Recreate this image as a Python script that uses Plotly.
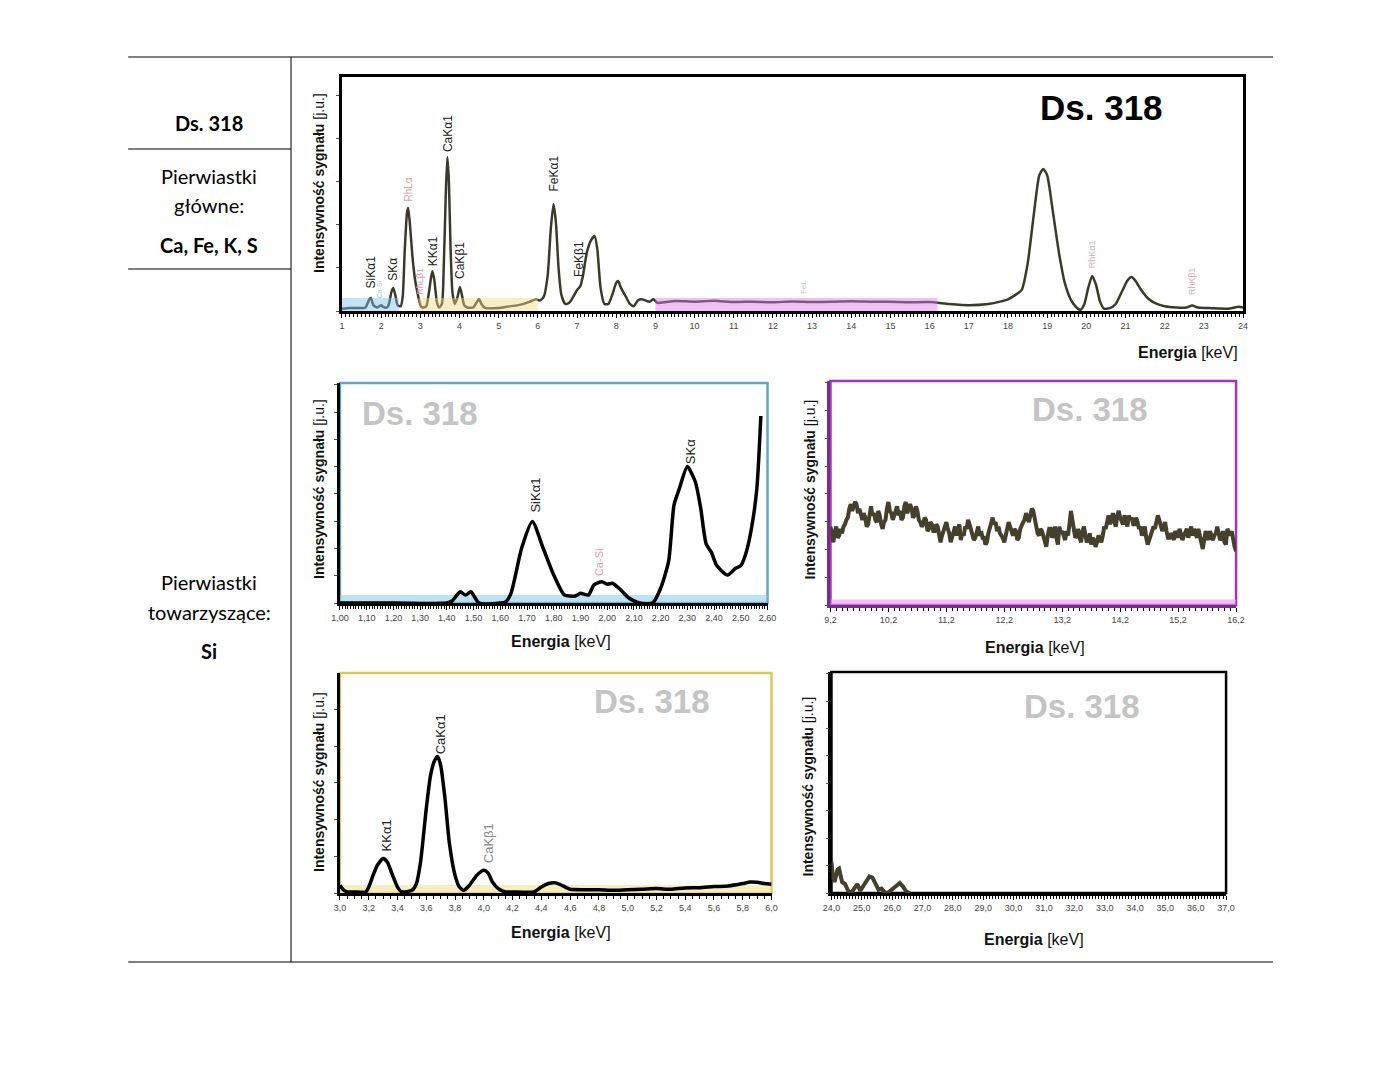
import numpy as np
import plotly.graph_objects as go

# page is 1400x1071; html body has an 8px margin, so the figure is 1384x1055
W, H = 1384, 1055
OFF = 8

# ---------------- DATA ----------------
# Main spectrum (1-24 keV), intensity in arbitrary units (0-100 = plot height)
main_x = [1.0, 1.2, 1.5, 1.6, 1.7, 1.74, 1.8, 1.9, 2.0, 2.05, 2.15, 2.2, 2.26, 2.31, 2.36, 2.42,
          2.5, 2.55, 2.6, 2.66, 2.69, 2.74, 2.8, 2.86, 2.9, 2.95, 3.0, 3.05, 3.15, 3.22, 3.28,
          3.31, 3.36, 3.42, 3.48, 3.55, 3.6, 3.65, 3.69, 3.73, 3.77, 3.82, 3.88, 3.95, 4.01,
          4.06, 4.12, 4.2, 4.35, 4.45, 4.5, 4.56, 4.65, 5.0, 5.2, 5.5, 5.8, 5.95, 6.05, 6.15,
          6.25, 6.33, 6.4, 6.46, 6.53, 6.6, 6.7, 6.8, 6.9, 7.0, 7.08, 7.15, 7.25, 7.35, 7.45,
          7.52, 7.6, 7.7, 7.8, 7.9, 8.0, 8.05, 8.12, 8.25, 8.35, 8.45, 8.55, 8.65, 8.75, 8.85,
          8.95, 9.05, 9.5, 10.0, 10.5, 11.0, 11.5, 12.0, 12.5, 13.0, 13.5, 14.0, 14.5, 15.0,
          15.5, 16.0, 16.5, 17.0, 17.5, 17.8, 18.0, 18.2, 18.35, 18.5, 18.65, 18.8, 18.9, 19.0,
          19.15, 19.3, 19.45, 19.6, 19.75, 19.85, 19.95, 20.05, 20.15, 20.25, 20.35, 20.45,
          20.6, 20.75, 20.9, 21.05, 21.15, 21.25, 21.4, 21.6, 21.8, 22.0, 22.3, 22.55, 22.7,
          22.85, 23.2, 23.6, 23.9, 24.0]
main_y = [1.0, 1.3, 1.3, 1.5, 5.0, 5.6, 2.5, 1.5, 2.5, 1.8, 1.5, 3.0, 8.0, 9.8, 7.0, 2.5,
          2.0, 6.0, 25.0, 42.0, 44.0, 36.0, 23.0, 14.0, 10.0, 6.0, 2.5, 1.5, 2.0, 8.0, 15.0,
          17.0, 13.0, 4.0, 1.5, 3.0, 20.0, 50.0, 65.8, 55.0, 28.0, 8.0, 3.0, 6.0, 10.3,
          7.0, 2.5, 1.5, 1.5, 4.0, 5.1, 3.0, 1.3, 1.3, 1.8, 2.5, 4.0, 5.0, 4.5, 6.0,
          15.0, 35.0, 45.7, 38.0, 18.0, 7.0, 3.0, 3.5, 6.0, 9.0, 10.5, 15.0, 25.0, 30.0, 32.0,
          26.0, 10.0, 3.0, 3.0, 7.0, 12.0, 12.8, 10.0, 6.0, 3.0, 2.0, 4.5, 5.0, 4.5, 4.0,
          5.0, 3.5, 4.3, 4.0, 4.4, 3.8, 4.0, 3.7, 4.1, 3.8, 3.9, 4.2, 4.0, 3.9,
          3.7, 3.8, 3.0, 2.5, 3.0, 4.0, 5.0, 7.0, 9.0, 20.0, 40.0, 58.0, 60.7, 58.0,
          42.0, 25.0, 12.0, 5.0, 1.5, 0.5, 3.0, 10.0, 15.0, 11.0, 4.0, 1.0,
          1.2, 3.0, 8.0, 13.0, 14.5, 13.0, 9.0, 5.0, 3.0, 2.0, 1.5, 1.5, 2.3,
          1.5, 1.2, 1.0, 1.8, 1.5]

# Si region (1.00-2.60 keV)
si_x = [1.00, 1.20, 1.40, 1.42, 1.45, 1.47, 1.49, 1.52, 1.60, 1.62, 1.64, 1.68, 1.72, 1.76,
        1.80, 1.84, 1.88, 1.90, 1.93, 1.95, 1.98, 2.00, 2.02, 2.05, 2.08, 2.12, 2.17, 2.20,
        2.23, 2.25, 2.27, 2.30, 2.33, 2.35, 2.37, 2.39, 2.41, 2.45, 2.48, 2.50, 2.52, 2.54,
        2.56, 2.575]
si_y = [0.0, 0.0, 0.0, 1.0, 5.1, 3.6, 5.1, 0.0, 0.0, 0.5, 4.4, 25.0, 37.0, 25.0,
        12.7, 3.6, 3.2, 4.4, 3.6, 8.2, 9.7, 8.5, 9.0, 6.0, 2.4, 0.0, 0.0, 6.7,
        19.0, 44.5, 52.0, 62.0, 55.0, 43.0, 27.0, 23.0, 17.0, 12.7, 15.8, 17.0, 23.0, 34.0,
        52.0, 85.0]

# Background region (9.2-16.2 keV), evenly sampled
bg_y = [35, 31, 28, 33, 35, 30, 31, 34, 32, 35, 36, 38, 39, 43, 45, 42, 44, 46, 45, 41,
        43, 40, 38, 41, 39, 35, 36, 40, 44, 40, 41, 38, 37, 42, 40, 36, 34, 37, 38, 43,
        46, 42, 41, 38, 40, 43, 44, 40, 42, 38, 39, 44, 46, 41, 44, 45, 43, 39, 40, 44,
        42, 38, 37, 35, 36, 39, 38, 33, 34, 37, 36, 33, 33, 36, 35, 30, 28, 31, 33, 36,
        37, 34, 32, 28, 30, 33, 35, 31, 33, 36, 29, 32, 31, 35, 34, 38, 36, 33, 32, 29,
        30, 33, 35, 31, 33, 30, 30, 27, 28, 32, 34, 37, 39, 36, 37, 33, 35, 32, 31, 30,
        28, 31, 33, 37, 35, 32, 31, 34, 33, 29, 30, 34, 36, 37, 38, 41, 39, 37, 40, 43,
        42, 38, 36, 32, 31, 34, 33, 30, 28, 26, 31, 34, 34, 30, 32, 35, 30, 27, 35, 32,
        33, 31, 29, 33, 31, 36, 42, 38, 33, 30, 31, 34, 30, 28, 33, 35, 31, 28, 29, 32,
        27, 30, 29, 26, 28, 31, 30, 28, 31, 35, 34, 37, 40, 36, 38, 41, 37, 35, 40, 42,
        39, 37, 36, 40, 37, 35, 40, 38, 39, 36, 36, 39, 37, 34, 35, 31, 33, 35, 30, 27,
        29, 31, 32, 35, 34, 37, 40, 38, 36, 33, 35, 37, 33, 30, 30, 32, 31, 29, 33, 31,
        30, 34, 32, 29, 31, 33, 34, 30, 33, 35, 31, 34, 32, 30, 34, 30, 28, 25, 31, 33,
        31, 29, 33, 30, 29, 31, 32, 35, 31, 29, 30, 33, 28, 27, 34, 32, 31, 33, 29, 26, 24]
bg_x = list(np.round(np.linspace(9.2, 16.2, len(bg_y)), 4))

# Ca/K region (3.0-6.0 keV)
ca_x = [3.00, 3.02, 3.05, 3.10, 3.18, 3.20, 3.23, 3.26, 3.30, 3.33, 3.36, 3.40, 3.43, 3.50,
        3.53, 3.56, 3.60, 3.63, 3.66, 3.68, 3.70, 3.73, 3.76, 3.80, 3.83, 3.86, 3.90, 3.95,
        4.00, 4.03, 4.06, 4.10, 4.15, 4.20, 4.35, 4.40, 4.45, 4.50, 4.55, 4.60, 4.70, 4.80,
        4.90, 5.00, 5.10, 5.20, 5.30, 5.40, 5.50, 5.60, 5.70, 5.80, 5.85, 5.90, 5.95, 6.00]
ca_y = [3.5, 1.7, 0.5, 0.5, 0.5, 2.7, 8.0, 12.6, 15.7, 14.0, 9.0, 2.7, 0.5, 1.2,
        4.0, 14.0, 38.4, 53.6, 60.5, 62.0, 58.0, 43.0, 23.0, 8.0, 2.7, 1.2, 3.5, 8.0,
        10.3, 9.0, 5.0, 2.0, 0.5, 0.5, 0.5, 2.7, 4.3, 4.6, 3.2, 1.7, 1.5, 1.5,
        1.2, 1.5, 1.7, 2.0, 1.7, 2.3, 2.4, 2.9, 3.2, 4.3, 5.0, 4.9, 4.3, 4.0]

# High-energy region (24-37 keV)
hi_x = [24.0, 24.05, 24.1, 24.15, 24.2, 24.25, 24.3, 24.35, 24.45, 24.55, 24.65, 24.75,
        24.85, 24.95, 25.05, 25.15, 25.25, 25.35, 25.45, 25.55, 25.65, 25.75, 25.85, 25.95,
        26.05, 26.15, 26.25, 26.35, 26.45, 26.55, 26.6]
hi_y = [14.0, 7.0, 5.0, 8.0, 10.5, 11.0, 8.0, 5.0, 4.0, 1.0, 0.0, 2.0,
        4.0, 1.0, 3.0, 5.0, 7.5, 7.0, 4.0, 1.5, 2.0, 0.3, 0.0, 1.0,
        2.0, 3.0, 4.5, 3.0, 1.0, 0.0, 0.0]

# Peak labels: (text, x, y, colour, size)
main_labels = [("SiKα1", 1.74, 9.0, "#222", 12), ("SKα", 2.31, 12.0, "#222", 12),
               ("RhLα", 2.69, 46.0, "#d4a0a8", 10), ("RhLβ1", 3.0, 6.0, "#d4a0a8", 9),
               ("KKα1", 3.31, 18.5, "#222", 12), ("CaKα1", 3.69, 67.0, "#222", 12),
               ("CaKβ1", 4.01, 13.0, "#222", 12), ("FeKα1", 6.40, 50.0, "#222", 12),
               ("FeKβ1", 7.05, 13.7, "#222", 12), ("Ca-Si", 1.95, 4.7, "#b8c8d8", 7),
               ("FeL", 12.8, 6.5, "#e0b8c8", 8), ("RhKα1", 20.15, 17.5, "#d8b0b8", 9),
               ("RhKβ1", 22.7, 6.0, "#d8b0b8", 9)]
si_labels = [("SiKα1", 1.73, 40.0, "#222", 13), ("Ca-Si", 1.97, 11.4, "#d4a0a8", 11),
             ("SKα", 2.31, 62.0, "#222", 13)]
ca_labels = [("KKα1", 3.32, 18.0, "#222", 13), ("CaKα1", 3.70, 62.0, "#222", 13),
             ("CaKβ1", 4.03, 12.7, "#888", 13)]

# ---------------- LAYOUT HELPERS ----------------
# empirical horizontal calibration of the rendered page
def px_x(p):
    return ((p - 7.8) / 0.988 - OFF) / W

def px_y(p):
    return 1 - (p - OFF) / H

FONT = "Liberation Sans"
LINE_DARK = "#3b3a2a"

fig = go.Figure()

fig.add_trace(go.Scatter(x=main_x, y=main_y, mode="lines", xaxis="x", yaxis="y",
                         line=dict(color=LINE_DARK, width=2.5, shape="spline", smoothing=0.6),
                         showlegend=False))
fig.add_trace(go.Scatter(x=si_x, y=si_y, mode="lines", xaxis="x2", yaxis="y2",
                         line=dict(color="#000", width=3.5, shape="spline", smoothing=0.6),
                         showlegend=False))
fig.add_trace(go.Scatter(x=bg_x, y=bg_y, mode="lines", xaxis="x3", yaxis="y3",
                         line=dict(color="#45402c", width=4),
                         showlegend=False))
fig.add_trace(go.Scatter(x=ca_x, y=ca_y, mode="lines", xaxis="x4", yaxis="y4",
                         line=dict(color="#000", width=3.5, shape="spline", smoothing=0.6),
                         showlegend=False))
fig.add_trace(go.Scatter(x=hi_x, y=hi_y, mode="lines", xaxis="x5", yaxis="y5",
                         line=dict(color="#45402c", width=4),
                         showlegend=False))

tickfont = dict(family=FONT, size=9, color="#444")

def xax(domain, rng, dtick, tick0, fmt, minor_dtick, linecolor="#000", lw=2.5, mirror=False):
    return dict(domain=domain, range=rng, dtick=dtick, tick0=tick0, tickformat=fmt,
                showgrid=False, zeroline=False, showline=True, linecolor=linecolor,
                linewidth=lw, mirror=mirror, ticks="outside", ticklen=4, tickwidth=1,
                tickcolor="#000", tickfont=tickfont,
                minor=dict(dtick=minor_dtick, tick0=tick0, ticks="outside", ticklen=3,
                           tickwidth=1, tickcolor="#000", showgrid=False))

def yax(domain, dtick, anchor, linecolor="#000", lw=2.5, mirror=False):
    return dict(domain=domain, range=[0, 100], dtick=dtick, tick0=0, showticklabels=False,
                showgrid=False, zeroline=False, showline=True, linecolor=linecolor,
                linewidth=lw, mirror=mirror, ticks="outside", ticklen=3, tickcolor="#555",
                anchor=anchor)

layout = dict(
    width=W, height=H, margin=dict(l=0, r=0, t=0, b=0, pad=0), autosize=False,
    paper_bgcolor="white", plot_bgcolor="rgba(0,0,0,0)", separators=", ",
    showlegend=False,
    xaxis=xax([px_x(341), px_x(1243)], [1, 24], 1, 1, "d", 0.1, lw=3, mirror=True),
    yaxis=yax([px_y(311), px_y(77)], 18.4, "x", lw=3, mirror=True),
    xaxis2=xax([px_x(339), px_x(767)], [1.0, 2.6], 0.1, 1.0, ".2f", 0.01),
    yaxis2=yax([px_y(603), px_y(383)], 12.4, "x2"),
    xaxis3=xax([px_x(830), px_x(1236)], [9.2, 16.2], 1, 9.2, ".1f", 0.1, linecolor="#7a2a8a"),
    yaxis3=yax([px_y(605), px_y(381)], 12.4, "x3", linecolor="#7a2a8a"),
    xaxis4=xax([px_x(339), px_x(771)], [3.0, 6.0], 0.2, 3.0, ".1f", 0.05),
    yaxis4=yax([px_y(893), px_y(673)], 16.7, "x4"),
    xaxis5=xax([px_x(831), px_x(1226)], [24, 37], 1, 24, ".1f", 0.1),
    yaxis5=yax([px_y(893), px_y(672)], 12.4, "x5"),
)
for i in range(2, 6):
    layout[f"xaxis{i}"]["anchor"] = f"y{i}"
layout["xaxis"]["anchor"] = "y"
fig.update_layout(**layout)

shapes = []
# table lines
shapes.append(dict(type="line", xref="paper", yref="paper", x0=px_x(127), x1=px_x(1273),
                   y0=px_y(57), y1=px_y(57), line=dict(color="#000", width=1)))
shapes.append(dict(type="line", xref="paper", yref="paper", x0=px_x(127), x1=px_x(1273),
                   y0=px_y(962), y1=px_y(962), line=dict(color="#000", width=1)))
shapes.append(dict(type="line", xref="paper", yref="paper", x0=px_x(290), x1=px_x(290),
                   y0=px_y(57), y1=px_y(962), line=dict(color="#000", width=1)))
for yy in (149, 269):
    shapes.append(dict(type="line", xref="paper", yref="paper", x0=px_x(127), x1=px_x(290),
                       y0=px_y(yy), y1=px_y(yy), line=dict(color="#000", width=1)))

# highlighted regions in main chart
shapes.append(dict(type="rect", xref="x", yref="y", x0=1.0, x1=2.45, y0=0, y1=5.6,
                   fillcolor="rgba(120,195,235,0.45)", line=dict(width=0), layer="above"))
shapes.append(dict(type="rect", xref="x", yref="y", x0=2.95, x1=6.0, y0=0, y1=5.6,
                   fillcolor="rgba(240,215,130,0.45)", line=dict(width=0), layer="above"))
shapes.append(dict(type="rect", xref="x", yref="y", x0=9.0, x1=16.2, y0=0, y1=5.6,
                   fillcolor="rgba(220,120,235,0.45)", line=dict(width=0), layer="above"))

# sub-chart frames and bands
frames = [("x2", "y2", "#5ea6c8"), ("x3", "y3", "#a331c2"), ("x4", "y4", "#d9c95a"),
          ("x5", "y5", "#000")]
for xa, ya, col in frames:
    shapes.append(dict(type="rect", xref=f"{xa} domain", yref=f"{ya} domain", x0=0, x1=1,
                       y0=0, y1=1, line=dict(color=col, width=2.5), layer="below"))
shapes.append(dict(type="rect", xref="x2", yref="y2", x0=1.0, x1=2.6, y0=0, y1=3.6,
                   fillcolor="rgba(130,200,235,0.55)", line=dict(width=0), layer="below"))
shapes.append(dict(type="rect", xref="x3", yref="y3", x0=9.2, x1=16.2, y0=0, y1=2.5,
                   fillcolor="rgba(230,150,240,0.6)", line=dict(width=0), layer="below"))
shapes.append(dict(type="rect", xref="x4", yref="y4", x0=3.0, x1=6.0, y0=0, y1=3.6,
                   fillcolor="rgba(245,225,150,0.6)", line=dict(width=0), layer="below"))
fig.update_layout(shapes=shapes)

ann = []

def text(t, x, y, size=20, color="#000", family="Lato", bold=False, **kw):
    ann.append(dict(text=f"<b>{t}</b>" if bold else t, x=x, y=y, xref="paper", yref="paper",
                    xanchor="center", yanchor="middle", showarrow=False,
                    font=dict(family=family, size=size, color=color), **kw))

# table texts
cx = px_x(208)
text("Ds. 318", cx, px_y(123), bold=True)
text("Pierwiastki", cx, px_y(176))
text("główne:", cx, px_y(205))
text("Ca, Fe, K, S", cx, px_y(245), bold=True)
text("Pierwiastki", cx, px_y(582))
text("towarzyszące:", cx, px_y(612))
text("Si", cx, px_y(651), bold=True)

# watermarks
text("Ds. 318", px_x(1101), px_y(108), size=35, color="#000", family=FONT, bold=True)
for (wx, wy) in [(419, 413), (1090, 409), (651, 701), (1082, 706)]:
    text("Ds. 318", px_x(wx), px_y(wy), size=33, color="#c4c4c4", family=FONT, bold=True)

# axis titles
xt = "<b>Energia</b> [keV]"
ann.append(dict(text=xt, x=px_x(1240), y=px_y(352), xref="paper", yref="paper",
                xanchor="right", yanchor="middle", showarrow=False,
                font=dict(family=FONT, size=16, color="#111")))
for (tx, ty) in [(560, 641), (1035, 647), (560, 932), (1034, 939)]:
    text(xt, px_x(tx), px_y(ty), size=16, color="#111", family=FONT)
yt = "<b>Intensywność sygnału</b> [j.u.]"
for (tx, ty) in [(318, 183), (318, 489), (810, 489), (318, 782), (808, 786)]:
    text(yt, px_x(tx), px_y(ty), size=14, color="#111", family=FONT, textangle=-90)

# peak labels
for labels, xa, ya in [(main_labels, "x", "y"), (si_labels, "x2", "y2"), (ca_labels, "x4", "y4")]:
    for (t, x, y, c, s) in labels:
        ann.append(dict(text=t, x=x, y=y, xref=xa, yref=ya, textangle=-90, showarrow=False,
                        xanchor="center", yanchor="bottom",
                        font=dict(family=FONT, size=s, color=c)))

fig.update_layout(annotations=ann)
fig.write_html("out.html")
